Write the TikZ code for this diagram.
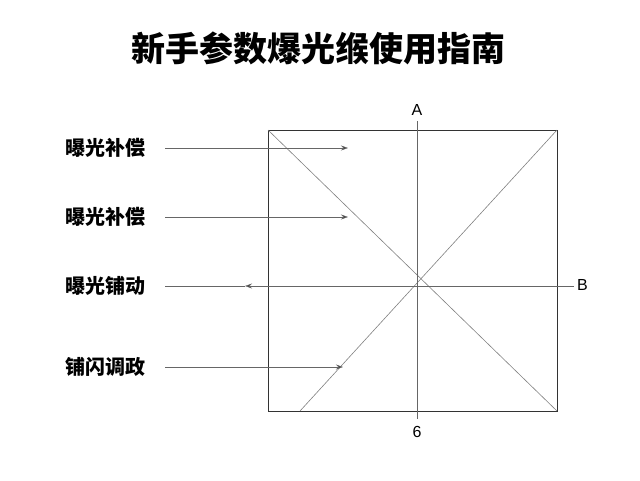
\documentclass[tikz,border=0pt]{standalone}
\usepackage{fontspec}
\setmainfont{Liberation Sans}
\newfontfamily\cjk{Noto Sans CJK SC}
\usetikzlibrary{arrows.meta}
\begin{document}
\begin{tikzpicture}[x=1pt,y=-1pt,
  lbl/.style={font=\cjk\bfseries\fontsize{20}{24}\selectfont, anchor=west, inner sep=0pt},
  axlbl/.style={font=\fontsize{16}{18}\selectfont, inner sep=0pt},
  frame/.style={draw=black!80, line width=0.8pt},
  axis/.style={draw=black!60, line width=0.6pt},
  diag/.style={draw=black!50, line width=0.6pt},
  arr/.style={draw=black!60, line width=0.6pt, -{Stealth[length=7pt,width=5pt,fill=black!80]}}]
\useasboundingbox (0,0) rectangle (640,480);
\node[font=\cjk\bfseries\fontsize{34}{40}\selectfont] (title) at (318,48) {新手参数爆光缑使用指南};
% frame
\coordinate (tl) at (268,130);
\coordinate (tr) at (557,130);
\coordinate (br) at (557,411);
\coordinate (bl) at (268,411);
\draw[frame] (tl) -- (tr) -- (br) -- (bl) -- cycle;
% diagonals
\coordinate (d2) at (300,411);
\draw[diag] (tl) -- (br);
\draw[diag] (tr) -- (d2);
% vertical axis
\coordinate (vt) at (417,121);
\coordinate (vb) at (417,419);
\draw[axis] (vt) -- (vb);
\node[axlbl] (A) at (417,110) {A};
\node[axlbl] (six) at (417,432) {6};
% labels
\node[lbl] (l1) at (65,148) {曝光补偿};
\node[lbl] (l2) at (65,217) {曝光补偿};
\node[lbl] (l3) at (65,286) {曝光铺动};
\node[lbl] (l4) at (65,367) {铺闪调政};
% horizontal axis
\coordinate (hend) at (574,286);
\coordinate (m3) at (245,286);
\node[axlbl, anchor=west] (B) at (577,285) {B};
\draw[arr] (hend) -- (m3);
\draw[axis, shorten <=20pt] (l3.east) -- (m3);
% arrows
\coordinate (e1) at (348,148);
\coordinate (e2) at (348,217);
\coordinate (e4) at (343,367);
\draw[arr, shorten <=20pt] (l1.east) -- (e1);
\draw[arr, shorten <=20pt] (l2.east) -- (e2);
\draw[arr, shorten <=20pt] (l4.east) -- (e4);
\end{tikzpicture}
\end{document}
